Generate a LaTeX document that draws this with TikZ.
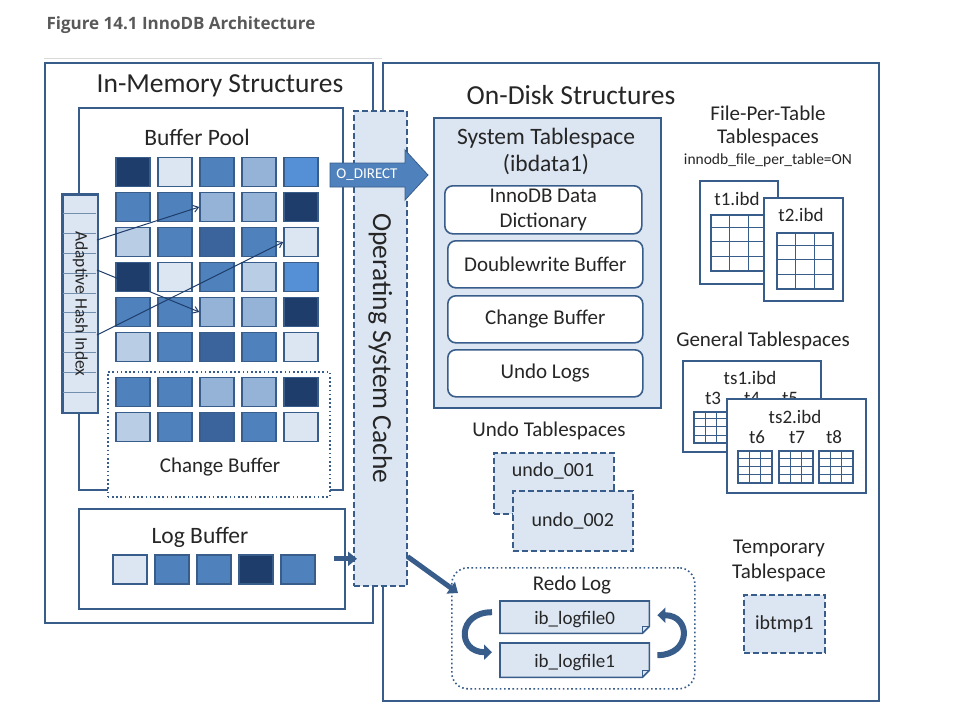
\documentclass[tikz,border=0pt]{standalone}
\usepackage{fontspec}
\setmainfont{Carlito}
\newfontfamily\titlefont{Open Sans}
\usetikzlibrary{arrows.meta,positioning}

\definecolor{bd}{HTML}{385D8A}
\definecolor{pale}{HTML}{DCE6F2}
\definecolor{ink}{HTML}{262626}
\definecolor{titlegray}{HTML}{595959}
\definecolor{sqN}{HTML}{1F3D6B}
\definecolor{sqD}{HTML}{3A649B}
\definecolor{sqM}{HTML}{4F81BD}
\definecolor{sqB}{HTML}{5590D6}
\definecolor{sqL}{HTML}{95B3D7}
\definecolor{sqT}{HTML}{B9CDE5}
\definecolor{sqV}{HTML}{DCE6F2}

\newcommand{\fs}[1]{\fontsize{#1}{#1}\selectfont}
% small table icon: x, y, width, height
\newcommand{\tbl}[4]{%
  \fill[white] (#1,#2) rectangle ++(#3,#4);
  \foreach \f in {0.333,0.667}
    \draw[bd, line width=0.8pt] ({#1+\f*#3},#2) -- ++(0,#4);
  \foreach \f in {0.22,0.48,0.74}
    \draw[bd, line width=0.8pt] (#1,{#2+\f*#4}) -- ++(#3,0);
  \draw[bd, line width=1.6pt] (#1,#2) rectangle ++(#3,#4);
}

\tikzset{
  box/.style={draw=bd, line width=1.6pt, fill=white, inner sep=0pt, anchor=north west},
  palebox/.style={box, fill=pale},
  dashbox/.style={palebox, dash pattern=on 6pt off 3pt},
  dotbox/.style={box, dash pattern=on 1.6pt off 2.6pt},
  roundbox/.style={box, rounded corners=8pt},
  cell/.style={draw=bd, line width=1.5pt, minimum width=34pt, minimum height=29pt, inner sep=0pt},
  hash/.style={draw=sqN, line width=1pt, -{Straight Barb[length=5pt,width=7pt]}},
  fat/.style={draw=bd, line width=5pt, -{Triangle[length=9pt,width=14pt]}},
  curl/.style={draw=bd, line width=6pt, -{Triangle[length=8pt,width=15pt]}},
  big/.style={font=\fs{27.5}},
  mid/.style={font=\fs{23.5}},
  lbl/.style={font=\fs{21}},
  sml/.style={font=\fs{19}}
}

\begin{document}
\begin{tikzpicture}[x=1pt, y=-1pt, every node/.append style={text=ink}]
  \useasboundingbox (0,0) rectangle (975,726);

  \node[anchor=west, font=\titlefont\bfseries\fs{17}, text=titlegray] (title) at (43,25) {Figure 14.1 InnoDB Architecture};
  \draw[gray!30, line width=1pt] (44,58) -- (382,58);

  % the two halves
  \node[box, minimum width=328, minimum height=560] (mem) at (44,62) {};
  \node[box, minimum width=496, minimum height=638] (disk) at (382,62) {};
  \node[big] (memlbl) at (220,86) {In-Memory Structures};
  \node[big] (disklbl) at (571,95) {On-Disk Structures};

  % buffer pool
  \node[box, minimum width=264, minimum height=382] (bp) at (78,107) {};
  \node[mid] (bplbl) at (197,137) {Buffer Pool};
  \node[dotbox, minimum width=222, minimum height=125] (cb) at (107,371) {};
  \node[lbl] (cblbl) at (220,467) {Change Buffer};
  \foreach \r/\row in {1/{sqN,sqV,sqM,sqL,sqB}, 2/{sqM,sqM,sqL,sqL,sqN},
                       3/{sqT,sqM,sqD,sqM,sqV}, 4/{sqN,sqV,sqM,sqT,sqB},
                       5/{sqM,sqM,sqL,sqL,sqN}, 6/{sqT,sqM,sqD,sqM,sqV},
                       7/{sqM,sqM,sqL,sqL,sqN}, 8/{sqT,sqM,sqD,sqM,sqV}}
    \foreach \c [count=\k] in \row {
      \pgfmathsetmacro\yy{\r<7 ? 172+35*(\r-1) : 392+35*(\r-7)}
      \node[cell, fill=\c] (bp-\r-\k) at ({133+42*(\k-1)},\yy) {};
    }

  % adaptive hash index
  \node[palebox, minimum width=35, minimum height=218] (ahi) at (62,194) {};
  \foreach \i in {1,...,10}
    \draw[bd!70, line width=0.8pt] (63,{194+\i*19.8}) -- (96,{194+\i*19.8});
  \draw[bd, line width=1.6pt] (ahi.north west) rectangle (ahi.south east);
  \node[rotate=-90, font=\fs{17.5}] (ahilbl) at (ahi.center) {Adaptive Hash Index};
  \coordinate (h1) at (97,240);
  \coordinate (h2) at (97,270);
  \coordinate (h3) at (97,335);
  \draw[hash] (h1) -- (bp-2-3.west);
  \draw[hash] (h2) -- (bp-5-3.west);
  \draw[hash] (h3) -- (bp-3-5.west);

  % log buffer
  \node[box, minimum width=266, minimum height=100] (lb) at (78,508) {};
  \node[mid] (lblbl) at (200,537) {Log Buffer};
  \foreach \c [count=\k] in {sqV,sqM,sqM,sqN,sqM}
    \node[cell, fill=\c] (lb-\k) at ({130+42*(\k-1)},569.5) {};

  % operating system cache
  \node[dashbox, minimum width=53, minimum height=475] (os) at (353,110) {};
  \node[rotate=-90, big] (oslbl) at (os.center) {Operating System Cache};
  \fill[sqM, draw=bd, line width=0.8pt] (330,163) -- (405,163) -- (405,150) -- (428,175)
    -- (405,200) -- (405,187) -- (330,187) -- cycle;
  \node[font=\fs{15}, text=white] (odir) at (367,175) {O\_DIRECT};
  \draw[fat] ([xshift=-12pt]lb.east) -- ([xshift=4pt]lb.east -| os.west);

  % system tablespace
  \node[palebox, minimum width=227, minimum height=290] (sys) at (433,117) {};
  \node[mid] (syslbl) at (546,138) {System Tablespace};
  \node[mid] (ibdata) at (546,165) {(ibdata1)};
  \node[roundbox, minimum width=197, minimum height=48] (dd) at (444,185) {};
  \node[lbl, align=center, font=\fontsize{21}{25}\selectfont] (ddlbl) at (dd.center) {InnoDB Data\\Dictionary};
  \node[roundbox, minimum width=195, minimum height=47] (dw) at (447,240) {};
  \node[lbl] (dwlbl) at (dw.center) {Doublewrite Buffer};
  \node[roundbox, minimum width=195, minimum height=47] (sc) at (447,295) {};
  \node[lbl] (sclbl) at (sc.center) {Change Buffer};
  \node[roundbox, minimum width=195, minimum height=47] (ul) at (447,349) {};
  \node[lbl] (ullbl) at (ul.center) {Undo Logs};

  % file-per-table tablespaces
  \node[lbl] (fptlbl) at (768,113) {File-Per-Table};
  \node[lbl] (fptlbl2) at (768,138) {Tablespaces};
  \node[font=\fs{15.5}] (fptopt) at (768,160) {innodb\_file\_per\_table=ON};
  \node[box, minimum width=78, minimum height=103] (t1) at (699,180) {};
  \node[sml] (t1lbl) at (737,199) {t1.ibd};
  \tbl{711}{215}{56}{56}
  \node[box, minimum width=79, minimum height=103] (t2) at (763,197) {};
  \node[sml] (t2lbl) at (801,215) {t2.ibd};
  \tbl{777}{233}{56}{56}

  % general tablespaces
  \node[lbl] (genlbl) at (763,341) {General Tablespaces};
  \node[box, minimum width=138, minimum height=91] (ts1) at (682,360) {};
  \node[sml] (ts1lbl) at (750,378) {ts1.ibd};
  \node[sml] (t3) at (713,398) {t3};
  \node[sml] (t4) at (752,398) {t4};
  \node[sml] (t5) at (790,398) {t5};
  \tbl{694}{412}{34}{31}
  \node[box, minimum width=139, minimum height=94] (ts2) at (726,398) {};
  \node[sml] (ts2lbl) at (795,417) {ts2.ibd};
  \node[sml] (t6) at (757,437) {t6};
  \node[sml] (t7) at (797,437) {t7};
  \node[sml] (t8) at (834,437) {t8};
  \tbl{738}{451}{34}{32}
  \tbl{779}{451}{34}{32}
  \tbl{819}{451}{34}{32}

  % undo tablespaces
  \node[lbl] (undolbl) at (549,431) {Undo Tablespaces};
  \node[dashbox, minimum width=120, minimum height=61] (u1) at (493,452) {};
  \node[font=\fs{20}] (u1lbl) at (553,471) {undo\_001};
  \node[dashbox, minimum width=120, minimum height=60] (u2) at (512,490) {};
  \node[font=\fs{20}] (u2lbl) at (u2.center) {undo\_002};

  % redo log
  \node[dotbox, rounded corners=16pt, minimum width=243, minimum height=121] (redo) at (451,567) {};
  \node[lbl] (redolbl) at (572,585) {Redo Log};
  \foreach \n/\y/\h in {0/601/32, 1/643/34} {
    \node[anchor=north west, minimum width=149, minimum height=\h, inner sep=0pt] (lf\n) at (500,\y) {};
    \draw[bd, fill=pale, line width=1.6pt] (lf\n.north west) -- (lf\n.north east)
      -- ([yshift=7pt]lf\n.south east) -- ([xshift=-7pt]lf\n.south east) -- (lf\n.south west) -- cycle;
    \draw[bd, line width=0.8pt] ([yshift=7pt]lf\n.south east) -- ([xshift=-7pt,yshift=7pt]lf\n.south east)
      -- ([xshift=-7pt]lf\n.south east);
    \node[sml] (lf\n lbl) at ([yshift=-2pt]lf\n.center) {ib\_logfile\n};
  }
  \draw[curl] ([xshift=-8pt,yshift=5pt]lf0.west) .. controls +(-35,0) and +(-35,0) .. ([xshift=-8pt,yshift=8pt]lf1.west);
  \draw[curl] ([xshift=8pt,yshift=5pt]lf1.east) .. controls +(34,0) and +(34,0) .. ([xshift=8pt,yshift=2pt]lf0.east);
  \draw[fat] ([yshift=30pt]os.south east) -- ([xshift=7pt,yshift=-26pt]redo.north west);

  % temporary tablespace
  \node[lbl] (tmplbl) at (779,548) {Temporary};
  \node[lbl] (tmplbl2) at (779,573) {Tablespace};
  \node[dashbox, minimum width=81, minimum height=58] (tmp) at (743,594) {};
  \node[font=\fs{20}] (tmpfile) at (tmp.center) {ibtmp1};
\end{tikzpicture}
\end{document}
